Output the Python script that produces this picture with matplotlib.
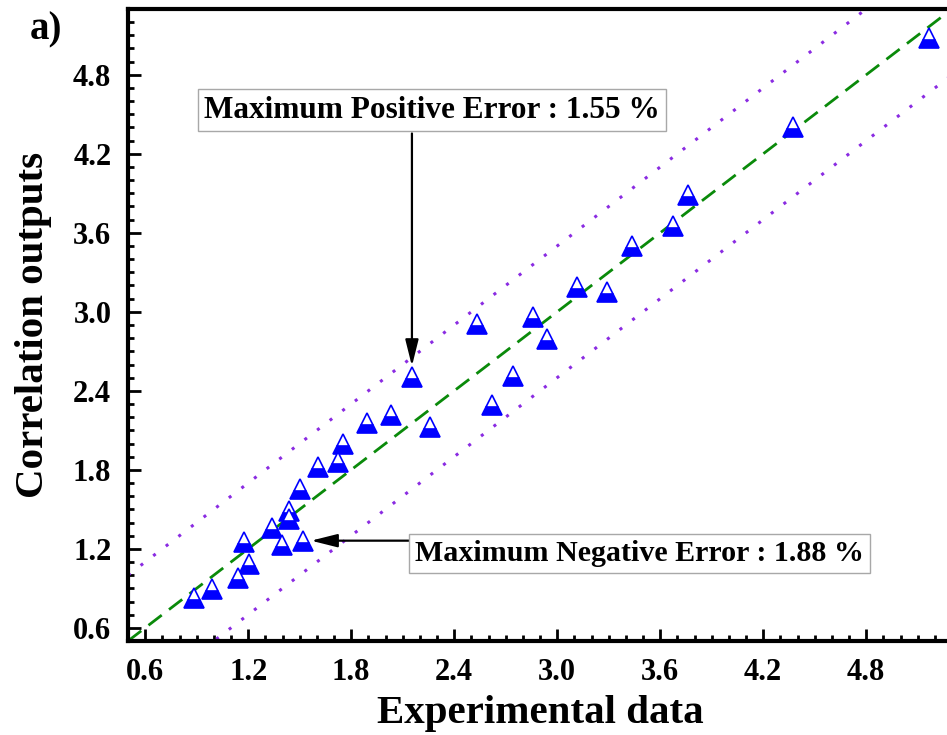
import numpy as np
import matplotlib
matplotlib.use("Agg")
import matplotlib.pyplot as plt
from matplotlib.ticker import MultipleLocator, FormatStrFormatter

# Experimental values and the corresponding correlation outputs
experimental = [0.884, 0.989, 1.141, 1.205, 1.176, 1.339, 1.397, 1.438, 1.440, 1.519,
                1.502, 1.607, 1.723, 1.752, 1.892, 2.032, 2.154, 2.259, 2.533, 2.620,
                2.742, 2.859, 2.940, 3.115, 3.290, 3.435, 3.674, 3.761, 4.373, 5.165]
correlation = [0.827, 0.895, 0.978, 1.085, 1.252, 1.358, 1.229, 1.487, 1.430, 1.259,
               1.654, 1.821, 1.859, 1.996, 2.155, 2.216, 2.505, 2.125, 2.907, 2.292,
               2.512, 2.960, 2.793, 3.188, 3.150, 3.499, 3.651, 3.887, 4.403, 5.079]

band_offset = 0.5
axis_range = [0.5, 5.3]
tick_values = [0.6, 1.2, 1.8, 2.4, 3.0, 3.6, 4.2, 4.8]

pos_label = "Maximum Positive Error : 1.55 %"
neg_label = "Maximum Negative Error : 1.88 %"

serif = ["Liberation Serif", "DejaVu Serif"]
plt.rcParams["font.family"] = serif
plt.rcParams["font.weight"] = "bold"

fig = plt.figure(figsize=(9.47, 7.35), dpi=100)
ax = fig.add_axes([128 / 947, 94 / 735, 824 / 947, 632 / 735])

# Reference line y = x and the +/- band
xx = np.array(axis_range)
ax.plot(xx, xx, color="#0a8a0a", lw=2.0, ls=(0, (6.0, 3.3)), zorder=2)
ax.plot(xx, xx + band_offset, color="#8a2be2", lw=2.2, ls=(0, (1.0, 4.2)), zorder=2)
ax.plot(xx, xx - band_offset, color="#8a2be2", lw=2.2, ls=(0, (1.0, 4.2)), zorder=2)

# Data points: half-filled triangles
ax.plot(experimental, correlation, ls="none", marker="^", ms=15,
        fillstyle="bottom", markerfacecolor="#0000ff", markerfacecoloralt="white",
        markeredgecolor="#0000ff", markeredgewidth=1.2, zorder=3)

ax.set_xlim(axis_range)
ax.set_ylim(axis_range)
ax.set_xticks(tick_values)
ax.set_yticks(tick_values)
ax.xaxis.set_minor_locator(MultipleLocator(0.1))
ax.yaxis.set_minor_locator(MultipleLocator(0.1))
ax.xaxis.set_major_formatter(FormatStrFormatter("%.1f"))
ax.yaxis.set_major_formatter(FormatStrFormatter("%.1f"))

ax.tick_params(which="both", direction="in", top=False, right=False, width=2.0)
ax.tick_params(which="major", length=9, labelsize=22, pad=12)
ax.tick_params(which="minor", length=4.5)
for lab in ax.get_xticklabels() + ax.get_yticklabels():
    lab.set_fontweight("bold")

for sp in ax.spines.values():
    sp.set_linewidth(3.0)

ax.set_xlabel("Experimental data", fontsize=29.5, fontweight="bold")
ax.set_ylabel("Correlation outputs", fontsize=29.5, fontweight="bold")
ax.xaxis.set_label_coords(0.5, -0.114)
ax.xaxis.label.set_verticalalignment("center")
ax.yaxis.set_label_coords(-0.115, 0.5)
ax.yaxis.label.set_verticalalignment("center")

box = dict(boxstyle="square,pad=0.2", facecolor="white", edgecolor="#a8a8a8", lw=1.0)

# Positive error annotation
ax.text(2.270, 4.532, pos_label, fontsize=22.5, fontweight="bold",
        ha="center", va="center", bbox=box, zorder=5)
ax.annotate("", xy=(2.154, 2.588), xytext=(2.154, 4.355),
            arrowprops=dict(arrowstyle="-|>,head_length=0.8,head_width=0.2",
                            mutation_scale=20, color="black", lw=1.6,
                            shrinkA=0, shrinkB=0), zorder=4)

# Negative error annotation
ax.text(3.482, 1.168, neg_label, fontsize=21.6, fontweight="bold",
        ha="center", va="center", bbox=box, zorder=5)
ax.annotate("", xy=(1.566, 1.262), xytext=(2.14, 1.262),
            arrowprops=dict(arrowstyle="-|>,head_length=0.8,head_width=0.2",
                            mutation_scale=20, color="black", lw=1.6,
                            shrinkA=0, shrinkB=0), zorder=4)

fig.text(30 / 947, 1 - 30 / 735, "a)", fontsize=28, fontweight="bold",
         ha="left", va="center")

fig.savefig("out.png", dpi=100)
